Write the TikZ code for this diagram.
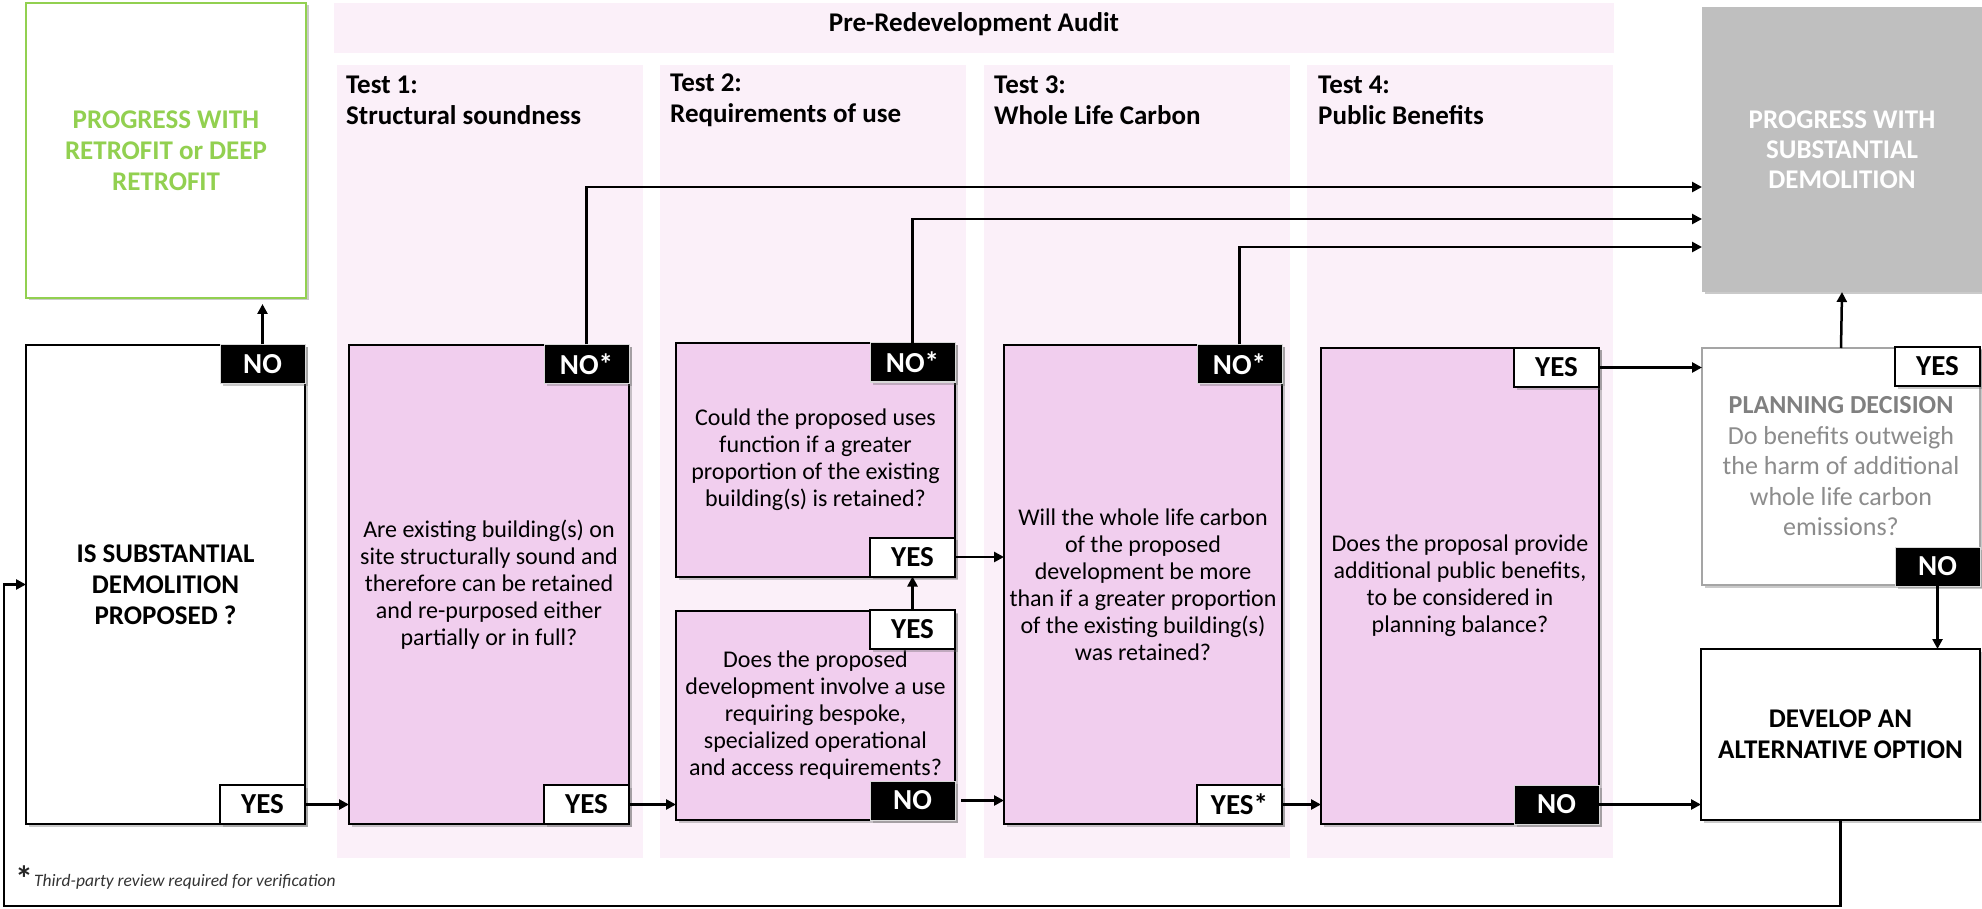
\documentclass[tikz,border=0pt]{standalone}
\usepackage{fontspec}
\setmainfont{Carlito}
\usetikzlibrary{arrows.meta,shadows}
\definecolor{colbg}{RGB}{251,240,249}
\definecolor{qfill}{RGB}{241,206,238}
\definecolor{retgreen}{RGB}{146,208,80}
\definecolor{demogrey}{RGB}{191,191,191}
\definecolor{planline}{RGB}{165,165,165}
\definecolor{plantext}{RGB}{128,128,128}
\definecolor{plantextb}{RGB}{140,140,140}
\newcommand{\fsz}[2]{\fontsize{#1}{#2}\selectfont}
\begin{document}
\begin{tikzpicture}[x=1pt,y=-1pt,
  shad/.style={drop shadow={shadow xshift=2.5pt,shadow yshift=-2.5pt,opacity=0.35,fill=black!60}},
  basebox/.style={rectangle,inner sep=0pt,outer sep=0pt,line width=2.5pt,align=center},
  qbox/.style={basebox,draw=black,fill=qfill,font=\fsz{24}{27},shad},
  capbox/.style={basebox,draw=black,fill=white,font=\bfseries\fsz{27}{31},shad},
  tagbase/.style={rectangle,inner sep=0pt,outer sep=0pt,minimum width=85pt,minimum height=39pt,font=\bfseries\fsz{29}{30},shad},
  tagno/.style={tagbase,fill=black,text=white,draw=white!85!black,line width=1pt},
  tagyes/.style={tagbase,fill=white,text=black,draw=black,line width=2pt},
  conn/.style={line width=2.5pt,-{Triangle[length=10pt,width=10pt]}},
  heading/.style={anchor=west,align=left,font=\bfseries\fsz{27}{31},inner sep=0pt}
]
\useasboundingbox (0,0) rectangle (1982,909);
% background columns
\fill[colbg] (334,3) rectangle (1614,53);
\fill[colbg] (337,65) rectangle (643,858);
\fill[colbg] (660,65) rectangle (966,858);
\fill[colbg] (984,65) rectangle (1290,858);
\fill[colbg] (1307,65) rectangle (1613,858);
\node[font=\bfseries\fsz{27}{30}] (audit) at (974,24) {Pre-Redevelopment Audit};
\node[heading] (h1) at (346,100.5) {Test 1:\\Structural soundness};
\node[heading] (h2) at (670,100.5) {Test 2:\\Requirements of use};
\node[heading] (h3) at (994,100.5) {Test 3:\\Whole Life Carbon};
\node[heading] (h4) at (1318,100.5) {Test 4:\\Public Benefits};
% boxes
\node[capbox,draw=retgreen,text=retgreen,minimum width=280pt,minimum height=295pt] (retro) at (166,150.5) {PROGRESS WITH\\RETROFIT or DEEP\\RETROFIT};
\node[capbox,minimum width=279pt,minimum height=479pt] (start) at (165.5,584.5) {IS SUBSTANTIAL\\DEMOLITION\\PROPOSED ?};
\node[qbox,minimum width=280pt,minimum height=479pt] (t1) at (489,584.5) {Are existing building(s) on\\site structurally sound and\\therefore can be retained\\and re-purposed either\\partially or in full?};
\node[qbox,minimum width=279pt,minimum height=234pt] (t2a) at (815.5,460) {Could the proposed uses\\function if a greater\\proportion of the existing\\building(s) is retained?};
\node[qbox,minimum width=279pt,minimum height=209pt] (t2b) at (815.5,715.5) {Does the proposed\\development involve a use\\requiring bespoke,\\specialized operational\\and access requirements?};
\node[qbox,minimum width=278pt,minimum height=479pt] (t3) at (1143,584.5) {Will the whole life carbon\\of the proposed\\development be more\\than if a greater proportion\\of the existing building(s)\\was retained?};
\node[qbox,minimum width=278pt,minimum height=476pt] (t4) at (1460,586) {Does the proposal provide\\additional public benefits,\\to be considered in\\planning balance?};
\node[basebox,fill=demogrey,text=white,font=\bfseries\fsz{27}{30},minimum width=280pt,minimum height=285pt,shad] (demo) at (1842,149.5) {PROGRESS WITH\\SUBSTANTIAL\\DEMOLITION};
\node[basebox,draw=planline,line width=2pt,fill=white,text=plantextb,font=\fsz{26}{30.5},minimum width=278pt,minimum height=237pt,shad] (plan) at (1841,466.5) {{\bfseries\color{plantext}PLANNING DECISION}\\Do benefits outweigh\\the harm of additional\\whole life carbon\\emissions?};
\node[capbox,minimum width=279pt,minimum height=171pt] (dev) at (1840.5,734.5) {DEVELOP AN\\ALTERNATIVE OPTION};
% tags
\node[tagno] (startno) at (262.5,364) {NO};
\node[tagyes] (startyes) at (262.5,804.5) {YES};
\node[tagno] (t1no) at (586.5,364) {NO*};
\node[tagyes] (t1yes) at (586.5,804.5) {YES};
\node[tagno] (t2ano) at (912.5,362.5) {NO*};
\node[tagyes] (t2ayes) at (912.5,557) {YES};
\node[tagyes] (t2byes) at (912.5,629.5) {YES};
\node[tagno] (t2bno) at (912.5,800.5) {NO};
\node[tagno] (t3no) at (1239.5,364) {NO*};
\node[tagyes] (t3yes) at (1239.5,804.5) {YES*};
\node[tagyes] (t4yes) at (1556.5,367.5) {YES};
\node[tagno] (t4no) at (1556.5,804.5) {NO};
\node[tagyes] (planyes) at (1937.5,366.5) {YES};
\node[tagno] (planno) at (1937.5,566.5) {NO};
% connectors
\draw[conn,shorten >=6pt] (startno.north) -- (startno.north |- retro.south);
\draw[conn] (startyes.east) -- (startyes.east -| t1.west);
\draw[conn] (t1yes.east) -- (t1yes.east -| t2b.west);
\draw[conn] (t1no.north) |- (demo.west |- 0,187);
\draw[conn] (t2ano.north) |- (demo.west |- 0,219);
\draw[conn] (t3no.north) |- (demo.west |- 0,247);
\draw[conn] (t2byes.north) -- (t2ayes.south);
\draw[conn] (t2ayes.east) -- (t2ayes.east -| t3.west);
\draw[conn,shorten <=6pt] (t2bno.east) -- (t2bno.east -| t3.west);
\draw[conn] (t3yes.east) -- (t3yes.east -| t4.west);
\draw[conn] (t4yes.east) -- (t4yes.east -| plan.west);
\draw[conn] (t4no.east) -- (t4no.east -| dev.west);
\draw[conn] (plan.north) -- (demo.south);
\draw[conn] (planno.south) -- (planno.south |- dev.north);
\coordinate (loopc) at (4,906);
\draw[conn] (dev.south) |- (loopc) |- (start.west);
% footnote
\node[font=\bfseries\fsz{36}{36},anchor=base,inner sep=0pt,text=black!85] (star) at (24,891) {*};
\node[font=\itshape\fsz{17.5}{20},anchor=base west,inner sep=0pt,text=black!80] (foot) at (34,886) {Third-party review required for verification};
\end{tikzpicture}
\end{document}
